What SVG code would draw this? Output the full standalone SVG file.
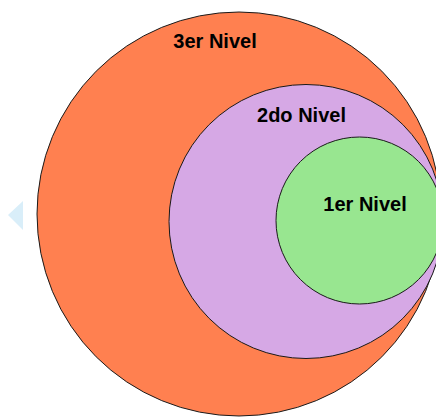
<svg xmlns="http://www.w3.org/2000/svg" width="436" height="417" viewBox="0 0 436 417">
<style>
.c{stroke:#1a1a1a;stroke-width:1}
.t{font-family:"Liberation Sans",Arial,sans-serif;font-weight:bold;font-size:20px;fill:#000;text-anchor:middle}
</style>
<rect width="436" height="417" fill="#fff"/>
<polygon points="8,215 23,201 23,230" fill="#d9eef9"/>
<g id="nivel3">
<circle class="c" cx="239" cy="214" r="202" fill="#ff8050"/>
<text class="t" x="215" y="48">3er Nivel</text>
</g>
<g id="nivel2">
<circle class="c" cx="306" cy="221.5" r="137" fill="#d6a8e5"/>
<text class="t" x="301.5" y="122">2do Nivel</text>
</g>
<g id="nivel1">
<circle class="c" cx="359.5" cy="220.5" r="83.5" fill="#98e690"/>
<text class="t" x="365" y="211">1er Nivel</text>
</g>
<g id="connectors"/>
</svg>
